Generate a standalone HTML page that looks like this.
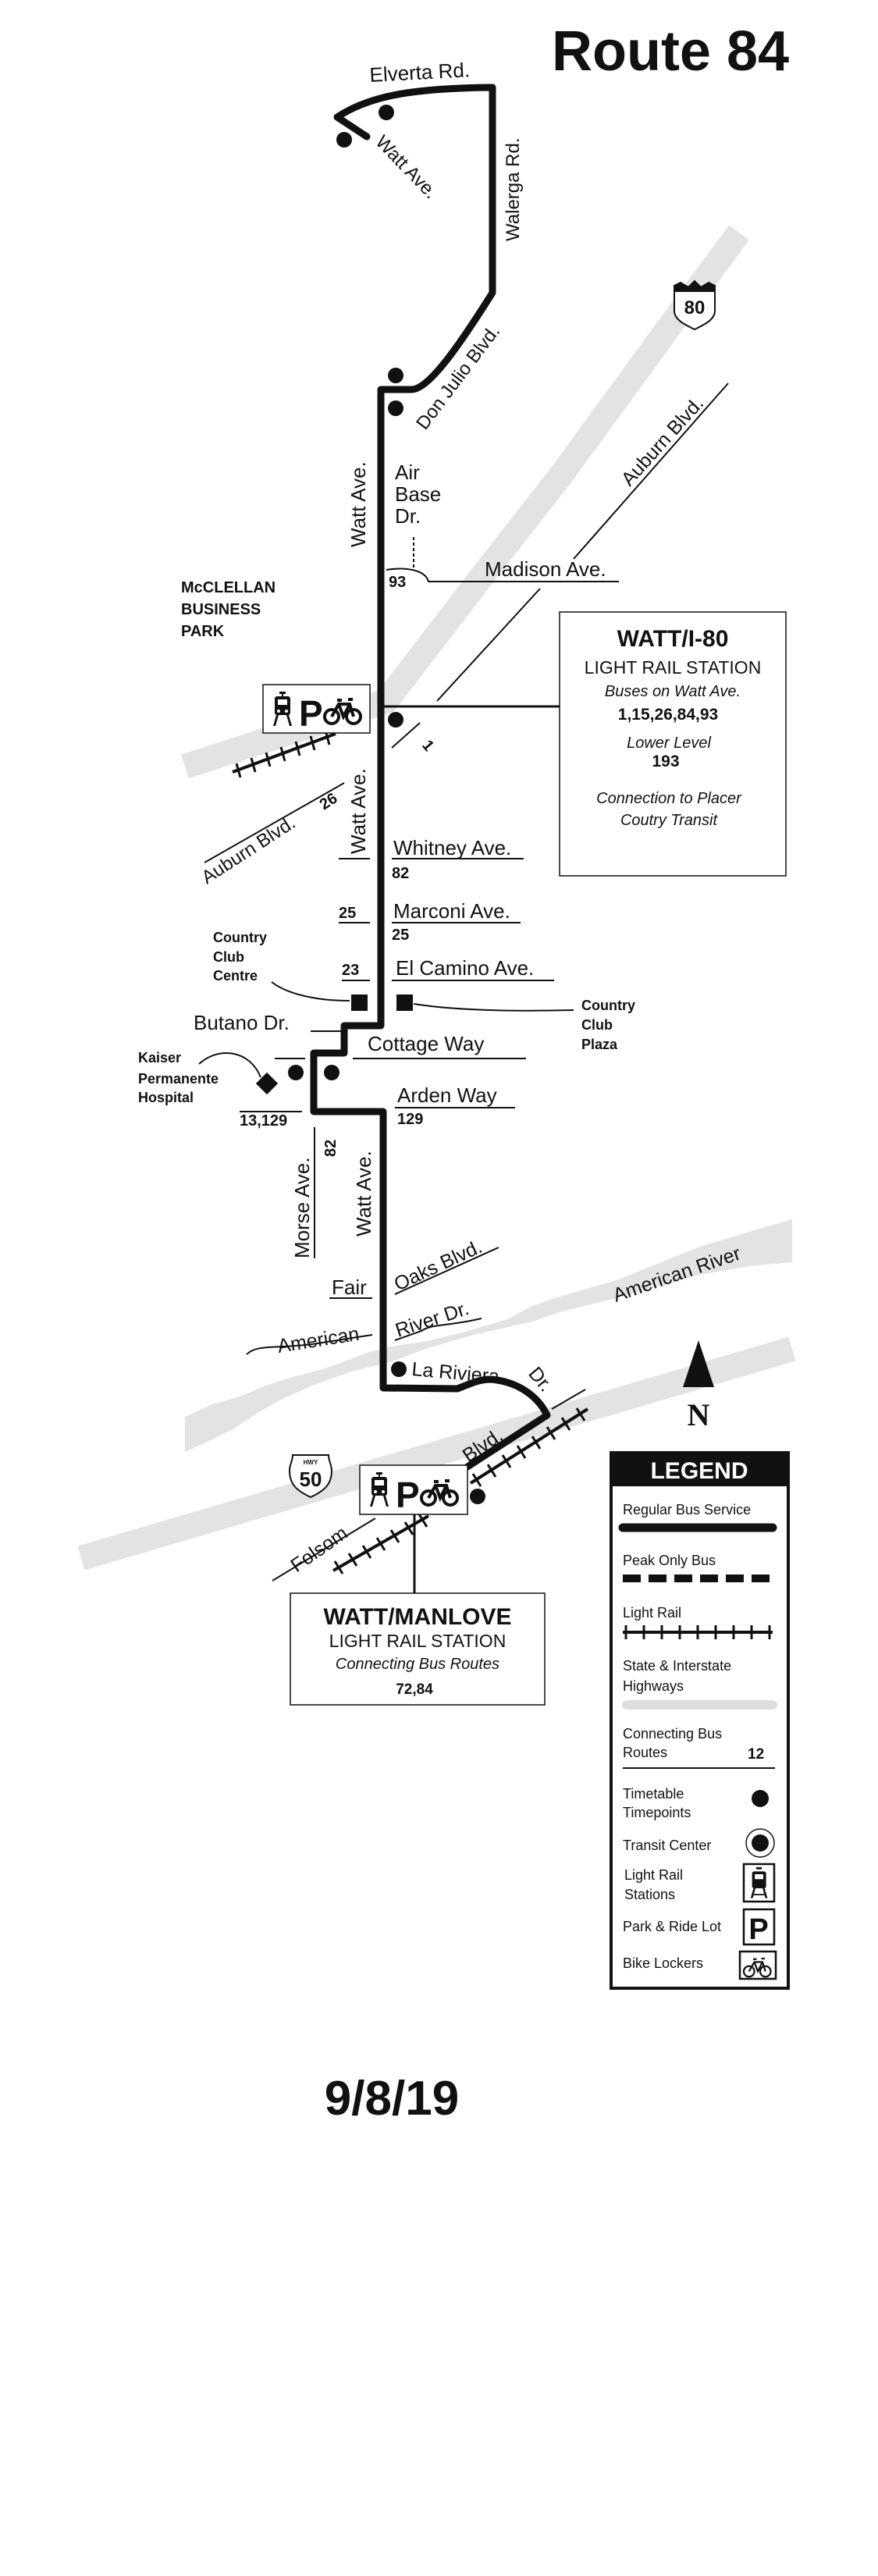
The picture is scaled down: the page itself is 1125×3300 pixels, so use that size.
<!DOCTYPE html>
<html><head><meta charset="utf-8"><style>
html,body{margin:0;padding:0;background:#fff}
svg{display:block}
text{font-family:"Liberation Sans",Arial,sans-serif;fill:#111}
.b{font-weight:bold}
.i{font-style:italic}
</style></head><body>
<svg width="1125" height="3300" viewBox="0 0 1125 3300" xmlns="http://www.w3.org/2000/svg">
<rect width="1125" height="3300" fill="#fff"/>
<!-- gray highways / river -->
<polyline points="947,298 861,414 718,610 624,730 495,898 237,982" fill="none" stroke="#e3e3e3" stroke-width="32"/>
<line x1="104" y1="1996" x2="1015" y2="1728" stroke="#e3e3e3" stroke-width="32"/>
<polygon fill="#e3e3e3" points="237,1815 270,1800 310,1788 340,1775 372,1765 410,1755 440,1745 470,1733 500,1725 548,1718 600,1705 650,1690 682,1673 720,1660 790,1640 897,1597 960,1578 1015,1562 1015,1617 960,1622 897,1633 790,1663 720,1680 682,1693 607,1710 548,1727 500,1745 450,1757 400,1775 360,1793 330,1810 300,1830 270,1845 237,1860"/>
<!-- streets thin -->
<g stroke="#111" stroke-width="2" fill="none">
<line x1="933" y1="491" x2="735" y2="716"/>
<line x1="692" y1="754" x2="560" y2="898"/>
<line x1="538" y1="926" x2="502" y2="958"/>
<line x1="441" y1="1003" x2="262" y2="1105"/>
<line x1="530" y1="688" x2="530" y2="730" stroke-dasharray="4,3"/>
<path d="M495,730 C520,726 545,730 549,745 L793,745"/>
<line x1="488" y1="905" x2="717" y2="905" stroke-width="3"/>
<line x1="502" y1="1100" x2="671" y2="1100"/>
<line x1="434" y1="1100" x2="474" y2="1100"/>
<line x1="434" y1="1182" x2="474" y2="1182"/>
<line x1="502" y1="1182" x2="667" y2="1182"/>
<line x1="438" y1="1256" x2="474" y2="1256"/>
<line x1="502" y1="1256" x2="710" y2="1256"/>
<path d="M348,1258 C370,1275 410,1282 448,1282"/>
<path d="M530,1286 C580,1294 650,1296 735,1294"/>
<line x1="398" y1="1321" x2="438" y2="1321"/>
<line x1="452" y1="1356" x2="674" y2="1356"/>
<line x1="352" y1="1356" x2="391" y2="1356"/>
<path d="M255,1363 C280,1340 320,1345 334,1380"/>
<line x1="307" y1="1424" x2="387" y2="1424"/>
<line x1="506" y1="1419" x2="660" y2="1419"/>
<line x1="403" y1="1444" x2="403" y2="1612"/>
<line x1="422" y1="1663" x2="477" y2="1663"/>
<line x1="506" y1="1658" x2="639" y2="1598"/>
<path d="M316,1735 C330,1722 350,1728 400,1722 L477,1710"/>
<path d="M506,1717 L540,1705 C555,1695 570,1700 617,1689"/>
<line x1="349" y1="2025" x2="481" y2="1945"/>
<line x1="707" y1="1805" x2="750" y2="1780"/>
<line x1="531" y1="1940" x2="531" y2="2041" stroke-width="3"/>
</g>
<!-- light rail -->
<g stroke="#111" stroke-width="4">
<line x1="298" y1="989" x2="430" y2="940"/>
<line x1="427" y1="2012" x2="549" y2="1942"/>
<line x1="603" y1="1900" x2="753" y2="1805"/>
</g>
<g stroke="#111" stroke-width="3">
<line x1="303" y1="978" x2="308" y2="996"/><line x1="322" y1="971" x2="327" y2="989"/><line x1="341" y1="964" x2="346" y2="982"/><line x1="360" y1="957" x2="365" y2="975"/><line x1="379" y1="950" x2="384" y2="968"/><line x1="398" y1="943" x2="403" y2="961"/><line x1="417" y1="936" x2="422" y2="954"/>
<line x1="429" y1="2000" x2="439" y2="2016"/><line x1="447" y1="1990" x2="457" y2="2006"/><line x1="465" y1="1980" x2="475" y2="1996"/><line x1="483" y1="1970" x2="493" y2="1986"/><line x1="501" y1="1960" x2="511" y2="1976"/><line x1="519" y1="1950" x2="529" y2="1966"/><line x1="537" y1="1940" x2="547" y2="1956"/>
<line x1="606" y1="1888" x2="616" y2="1904"/><line x1="625" y1="1876" x2="635" y2="1892"/><line x1="644" y1="1864" x2="654" y2="1880"/><line x1="663" y1="1852" x2="673" y2="1868"/><line x1="682" y1="1840" x2="692" y2="1856"/><line x1="701" y1="1828" x2="711" y2="1844"/><line x1="720" y1="1816" x2="730" y2="1832"/><line x1="739" y1="1804" x2="749" y2="1820"/>
</g>
<!-- route -->
<g fill="none" stroke="#111" stroke-width="9" stroke-linejoin="round" stroke-linecap="round">
<path d="M470,175 L432,150 C470,125 520,113 631,112 L631,375 C590,440 550,499 527,499 L488,499 L488,1314 L441,1314 L441,1349 L402,1349 L402,1424 L491,1424 L491,1778 L586,1779 C600,1774 612,1767 629,1767 C665,1770 690,1790 701,1813 L599,1879"/>
</g>
<g fill="#111">
<circle cx="495" cy="144" r="10"/><circle cx="441" cy="179" r="10"/>
<circle cx="507" cy="481" r="10"/><circle cx="507" cy="523" r="10"/>
<circle cx="507" cy="922" r="10"/>
<rect x="450" y="1274" width="21" height="21"/><rect x="508" y="1274" width="21" height="21"/>
<rect x="332" y="1378" width="20" height="20" transform="rotate(45 342 1388)"/>
<circle cx="379" cy="1374" r="10"/><circle cx="425" cy="1374" r="10"/>
<circle cx="511" cy="1754" r="10"/><circle cx="612" cy="1917" r="10"/>
<polygon points="875,1777 915,1777 895,1717"/>
</g>
<!-- station icon boxes -->
<g>
<rect x="337" y="877" width="137" height="62" fill="#fff" stroke="#111" stroke-width="1.5"/>
<g transform="translate(348,886)" fill="#111">
<rect x="4" y="6" width="20" height="24" rx="3"/><rect x="8" y="10" width="12" height="7" fill="#fff"/><rect x="10" y="0" width="8" height="3"/><rect x="13" y="2" width="2" height="5"/>
<circle cx="9" cy="25" r="2" fill="#fff"/><circle cx="19" cy="25" r="2" fill="#fff"/>
<polygon points="6,30 9,30 5,44 2,44"/><polygon points="19,30 22,30 26,44 23,44"/>
</g>
<text x="383" y="930" class="b" font-size="46">P</text>
<g transform="translate(416,892)" fill="none" stroke="#111" stroke-width="4">
<circle cx="9" cy="26" r="9"/><circle cx="37" cy="26" r="9"/><path d="M9,26 L18,10 L32,10 L37,26 M18,10 L24,26 L32,10 M16,5 L22,5 M30,4 L36,4"/>
</g>
<rect x="461" y="1877" width="138" height="63" fill="#fff" stroke="#111" stroke-width="1.5"/>
<g transform="translate(472,1886)" fill="#111">
<rect x="4" y="6" width="20" height="24" rx="3"/><rect x="8" y="10" width="12" height="7" fill="#fff"/><rect x="10" y="0" width="8" height="3"/><rect x="13" y="2" width="2" height="5"/>
<circle cx="9" cy="25" r="2" fill="#fff"/><circle cx="19" cy="25" r="2" fill="#fff"/>
<polygon points="6,30 9,30 5,44 2,44"/><polygon points="19,30 22,30 26,44 23,44"/>
</g>
<text x="507" y="1931" class="b" font-size="46">P</text>
<g transform="translate(540,1893)" fill="none" stroke="#111" stroke-width="4">
<circle cx="9" cy="26" r="9"/><circle cx="37" cy="26" r="9"/><path d="M9,26 L18,10 L32,10 L37,26 M18,10 L24,26 L32,10 M16,5 L22,5 M30,4 L36,4"/>
</g>
</g>
<!-- shields -->
<g transform="translate(862,360)">
<path d="M2,6 L10,2 L20,8 L28,0 L36,8 L46,2 L54,6 L54,38 C54,50 40,56 28,62 C16,56 2,50 2,38 Z" fill="#fff" stroke="#111" stroke-width="2"/>
<path d="M2,6 L10,2 L20,8 L28,0 L36,8 L46,2 L54,6 L54,14 L2,14 Z" fill="#111"/>
<text x="28" y="42" class="b" font-size="24" text-anchor="middle">80</text>
</g>
<g transform="translate(371,1862)">
<path d="M4,2 L50,2 C50,10 54,14 54,22 C54,40 44,48 27,56 C10,48 0,40 0,22 C0,14 4,10 4,2 Z" fill="#fff" stroke="#111" stroke-width="2"/>
<text x="27" y="14" class="b" font-size="8" text-anchor="middle">HWY</text>
<text x="27" y="42" class="b" font-size="26" text-anchor="middle">50</text>
</g>
<!-- title -->
<text x="707" y="90" class="b" font-size="72">Route 84</text>
<!-- labels -->
<text x="474" y="105" font-size="26" transform="rotate(-3 474 105)">Elverta Rd.</text>
<text x="480" y="183" font-size="24" transform="rotate(46 480 183)">Watt Ave.</text>
<text x="665" y="309" font-size="24" transform="rotate(-90 665 309)">Walerga Rd.</text>
<text x="545" y="552" font-size="24" transform="rotate(-53 545 552)">Don Julio Blvd.</text>
<text x="468" y="701" font-size="26" transform="rotate(-90 468 701)">Watt Ave.</text>
<text x="506" y="614" font-size="26">Air</text>
<text x="506" y="642" font-size="26">Base</text>
<text x="506" y="670" font-size="26">Dr.</text>
<text x="807" y="624" font-size="25" transform="rotate(-48 807 624)">Auburn Blvd.</text>
<text x="621" y="738" font-size="26">Madison Ave.</text>
<text x="498" y="752" class="b" font-size="20">93</text>
<text x="232" y="759" class="b" font-size="20">McCLELLAN</text>
<text x="232" y="787" class="b" font-size="20">BUSINESS</text>
<text x="232" y="815" class="b" font-size="20">PARK</text>
<text x="540" y="955" class="b" font-size="20" transform="rotate(50 540 955)">1</text>
<text x="468" y="1094" font-size="26" transform="rotate(-90 468 1094)">Watt Ave.</text>
<text x="265" y="1133" font-size="24" transform="rotate(-33 265 1133)">Auburn Blvd.</text>
<text x="415" y="1038" class="b" font-size="20" transform="rotate(-33 415 1038)">26</text>
<!-- WATT/I-80 box -->
<rect x="717" y="784" width="290" height="338" fill="#fff" stroke="#111" stroke-width="1.5"/>
<g text-anchor="middle">
<text x="862" y="828" class="b" font-size="30">WATT/I-80</text>
<text x="862" y="863" font-size="23">LIGHT RAIL STATION</text>
<text x="862" y="892" class="i" font-size="20">Buses on Watt Ave.</text>
<text x="856" y="922" class="b" font-size="21">1,15,26,84,93</text>
<text x="857" y="958" class="i" font-size="20">Lower Level</text>
<text x="853" y="982" class="b" font-size="21">193</text>
<text x="857" y="1029" class="i" font-size="20">Connection to Placer</text>
<text x="857" y="1057" class="i" font-size="20">Coutry Transit</text>
</g>
<text x="504" y="1095" font-size="26">Whitney Ave.</text>
<text x="502" y="1125" class="b" font-size="20">82</text>
<text x="434" y="1176" class="b" font-size="20">25</text>
<text x="504" y="1176" font-size="26">Marconi Ave.</text>
<text x="502" y="1204" class="b" font-size="20">25</text>
<text x="273" y="1207" class="b" font-size="18">Country</text>
<text x="273" y="1232" class="b" font-size="18">Club</text>
<text x="273" y="1256" class="b" font-size="18">Centre</text>
<text x="438" y="1249" class="b" font-size="20">23</text>
<text x="507" y="1249" font-size="26">El Camino Ave.</text>
<text x="745" y="1294" class="b" font-size="18">Country</text>
<text x="745" y="1319" class="b" font-size="18">Club</text>
<text x="745" y="1344" class="b" font-size="18">Plaza</text>
<text x="248" y="1319" font-size="26">Butano Dr.</text>
<text x="471" y="1346" font-size="26">Cottage Way</text>
<text x="177" y="1361" class="b" font-size="18">Kaiser</text>
<text x="177" y="1388" class="b" font-size="18">Permanente</text>
<text x="177" y="1412" class="b" font-size="18">Hospital</text>
<text x="307" y="1442" class="b" font-size="20">13,129</text>
<text x="509" y="1412" font-size="26">Arden Way</text>
<text x="509" y="1440" class="b" font-size="20">129</text>
<text x="396" y="1612" font-size="26" transform="rotate(-90 396 1612)">Morse Ave.</text>
<text x="430" y="1482" class="b" font-size="20" transform="rotate(-90 430 1482)">82</text>
<text x="475" y="1584" font-size="26" transform="rotate(-90 475 1584)">Watt Ave.</text>
<text x="425" y="1658" font-size="26">Fair</text>
<text x="510" y="1654" font-size="25" transform="rotate(-25 510 1654)">Oaks Blvd.</text>
<text x="357" y="1733" font-size="25" transform="rotate(-9 357 1733)">American</text>
<text x="510" y="1713" font-size="25" transform="rotate(-18 510 1713)">River Dr.</text>
<text x="789" y="1668" font-size="25" transform="rotate(-19 789 1668)">American River</text>
<text x="527" y="1762" font-size="25" transform="rotate(5 527 1762)">La Riviera</text>
<text x="676" y="1760" font-size="25" transform="rotate(50 676 1760)">Dr.</text>
<text x="600" y="1874" font-size="25" transform="rotate(-34 600 1874)">Blvd.</text>
<text x="380" y="2015" font-size="25" transform="rotate(-35 380 2015)">Folsom</text>
<text x="895" y="1826" font-size="40" class="b" text-anchor="middle" style="font-family:'Liberation Serif',serif">N</text>
<!-- MANLOVE box -->
<rect x="372" y="2041" width="326" height="143" fill="#fff" stroke="#111" stroke-width="1.5"/>
<g text-anchor="middle">
<text x="535" y="2081" class="b" font-size="30">WATT/MANLOVE</text>
<text x="535" y="2110" font-size="23">LIGHT RAIL STATION</text>
<text x="535" y="2138" class="i" font-size="20">Connecting Bus Routes</text>
<text x="531" y="2170" class="b" font-size="19">72,84</text>
</g>
<!-- legend -->
<rect x="783" y="1861" width="227" height="686" fill="#fff" stroke="#111" stroke-width="4"/>
<rect x="783" y="1861" width="227" height="43" fill="#111"/>
<text x="896" y="1894" class="b" font-size="30" text-anchor="middle" style="fill:#fff">LEGEND</text>
<g font-size="18">
<text x="798" y="1940">Regular Bus Service</text>
<text x="798" y="2005">Peak Only Bus</text>
<text x="798" y="2072">Light Rail</text>
<text x="798" y="2140">State &amp; Interstate</text>
<text x="798" y="2166">Highways</text>
<text x="798" y="2227">Connecting Bus</text>
<text x="798" y="2251">Routes</text>
<text x="798" y="2304">Timetable</text>
<text x="798" y="2328">Timepoints</text>
<text x="798" y="2370">Transit Center</text>
<text x="800" y="2408">Light Rail</text>
<text x="800" y="2433">Stations</text>
<text x="798" y="2474">Park &amp; Ride Lot</text>
<text x="798" y="2521">Bike Lockers</text>
</g>
<text x="958" y="2253" class="b" font-size="19">12</text>
<line x1="798" y1="1957" x2="990" y2="1957" stroke="#111" stroke-width="11" stroke-linecap="round"/>
<line x1="798" y1="2022" x2="990" y2="2022" stroke="#111" stroke-width="10" stroke-dasharray="23,10"/>
<line x1="798" y1="2091" x2="990" y2="2091" stroke="#111" stroke-width="4"/>
<g stroke="#111" stroke-width="3">
<line x1="802" y1="2082" x2="802" y2="2100"/><line x1="825" y1="2082" x2="825" y2="2100"/><line x1="848" y1="2082" x2="848" y2="2100"/><line x1="871" y1="2082" x2="871" y2="2100"/><line x1="894" y1="2082" x2="894" y2="2100"/><line x1="917" y1="2082" x2="917" y2="2100"/><line x1="940" y1="2082" x2="940" y2="2100"/><line x1="963" y1="2082" x2="963" y2="2100"/><line x1="986" y1="2082" x2="986" y2="2100"/>
</g>
<line x1="803" y1="2184" x2="990" y2="2184" stroke="#dedede" stroke-width="12" stroke-linecap="round"/>
<line x1="798" y1="2265" x2="993" y2="2265" stroke="#111" stroke-width="2"/>
<circle cx="974" cy="2304" r="11" fill="#111"/>
<circle cx="974" cy="2361" r="18" fill="#fff" stroke="#111" stroke-width="1.5"/>
<circle cx="974" cy="2361" r="11" fill="#111"/>
<rect x="953" y="2388" width="39" height="48" fill="#fff" stroke="#111" stroke-width="2.5"/>
<g transform="translate(960,2392) scale(0.9)" fill="#111">
<rect x="4" y="6" width="20" height="24" rx="3"/><rect x="8" y="10" width="12" height="7" fill="#fff"/><rect x="10" y="0" width="8" height="3"/>
<polygon points="6,30 9,30 5,44 2,44"/><polygon points="19,30 22,30 26,44 23,44"/><rect x="5" y="38" width="18" height="2"/>
</g>
<rect x="953" y="2446" width="39" height="45" fill="#fff" stroke="#111" stroke-width="2.5"/>
<text x="972" y="2484" class="b" font-size="38" text-anchor="middle">P</text>
<rect x="948" y="2500" width="46" height="35" fill="#fff" stroke="#111" stroke-width="2.5"/>
<g transform="translate(953,2506) scale(0.75)" fill="none" stroke="#111" stroke-width="3">
<circle cx="9" cy="26" r="9"/><circle cx="37" cy="26" r="9"/><path d="M9,26 L18,10 L32,10 L37,26 M18,10 L24,26 L32,10 M16,5 L22,5 M30,4 L36,4"/>
</g>
<text x="502" y="2709" class="b" font-size="62" text-anchor="middle">9/8/19</text>
</svg>
</body></html>
